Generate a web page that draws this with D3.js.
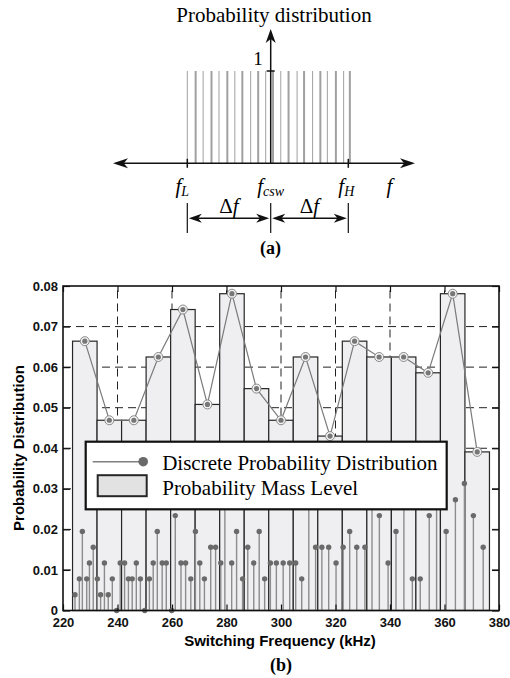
<!DOCTYPE html>
<html>
<head>
<meta charset="utf-8">
<script src="https://d3js.org/d3.v7.min.js"></script>
<style>
	body { margin: 0; background: #fff; }
	.serif { font-family: "Liberation Serif", "Times New Roman", serif; }
	.sans { font-family: "Liberation Sans", Arial, sans-serif; font-weight: bold; }
</style>
</head>
<body>
<svg id="fig" width="510" height="678"></svg>
<script>

////////////////////////////////////////////////////////////
///////////////////////// Data /////////////////////////////
////////////////////////////////////////////////////////////

//(a) spectral lines, in units of the spread (fL = -1, fcsw = 0, fH = 1)
var specLines = [-1.0, -0.90, -0.81, -0.71, -0.62, -0.52, -0.43, -0.34, -0.24, -0.15, -0.06,
	0.03, 0.13, 0.23, 0.34, 0.43, 0.54, 0.64, 0.73, 0.84, 0.94, 1.02];

//(b) axes
var freqTicks = [220, 240, 260, 280, 300, 320, 340, 360, 380];
var probTicks = [0, 0.01, 0.02, 0.03, 0.04, 0.05, 0.06, 0.07, 0.08];

//(b) probability mass levels (9 kHz bins)
var binCenters = [228, 237, 246, 255, 264, 273, 282, 291, 300, 309, 318, 327, 336, 345, 354, 363, 372];
var binProb = [0.0664, 0.0469, 0.0469, 0.0625, 0.0742, 0.0508, 0.0781, 0.0547, 0.0469,
	0.0625, 0.0430, 0.0664, 0.0625, 0.0625, 0.0586, 0.0781, 0.0391];

//(b) discrete probability distribution
var stemFreq = [224.4, 226.0, 227.1, 228.7, 229.7, 231.1, 232.6, 233.8, 235.2, 236.6, 238.1, 239.7,
	241.0, 242.6, 244.0, 245.4, 246.9, 248.4, 250.0, 251.7, 253.1, 254.6, 256.4, 257.9,
	259.9, 261.2, 263.3, 265.0, 266.9, 268.6, 270.2, 271.9, 274.2, 276.0, 277.9, 279.4,
	281.9, 283.7, 285.9, 287.8, 290.0, 292.0, 294.0, 296.1, 298.3, 300.8, 303.2, 305.4,
	307.6, 310.2, 312.7, 315.0, 317.5, 320.2, 322.8, 325.2, 327.8, 330.8, 333.4, 336.1,
	339.3, 342.2, 345.1, 348.2, 351.1, 354.4, 357.1, 360.6, 364.0, 367.3, 370.6, 374.2];
var stemProb = [0.0039, 0.0078, 0.0195, 0.0078, 0.0117, 0.0156, 0.0078, 0.0039, 0.0117, 0.0039, 0.0078, 0,
	0.0117, 0.0117, 0.0078, 0.0078, 0.0117, 0.0078, 0, 0.0078, 0.0117, 0.0195, 0.0117, 0.0117,
	0, 0.0234, 0.0117, 0.0117, 0.0078, 0.0195, 0.0117, 0.0078, 0.0156, 0.0156, 0.0117, 0.0273,
	0.0117, 0.0195, 0.0078, 0.0156, 0.0117, 0.0195, 0.0078, 0.0117, 0.0117, 0.0117, 0.0117, 0.0117,
	0.0078, 0.0273, 0.0156, 0.0156, 0.0156, 0.0117, 0.0156, 0.0195, 0.0156, 0.0156, 0.0273, 0.0234,
	0.0117, 0.0195, 0.0352, 0.0078, 0.0078, 0.0234, 0.0273, 0.0195, 0.0273, 0.0313, 0.0234, 0.0156];

var svg = d3.select("#fig");

////////////////////////////////////////////////////////////
///////////////////// (a) Diagram //////////////////////////
////////////////////////////////////////////////////////////

var xa = d3.scaleLinear().domain([-1, 0, 1]).range([187.3, 270.7, 348.3]),
	ya = d3.scaleLinear().domain([0, 1]).range([163.3, 71]);

var ga = svg.append("g");

//Spectral lines
ga.selectAll(".spec-line")
	.data(specLines)
	.enter().append("line")
	.attr("class", "spec-line")
	.attr("x1", function(d) { return xa(d); })
	.attr("x2", function(d) { return xa(d); })
	.attr("y1", ya(0))
	.attr("y2", ya(1))
	.style("stroke", "#a0a0a0")
	.style("stroke-width", function(d,i) { return i % 2 ? 2 : 1; });

//Arrow head helper (tip at x,y pointing in direction ang)
function arrowHead(g, x, y, ang, len, half) {
	g.append("path")
		.attr("d", "M0,0 L" + (-len) + "," + (-half) + " L" + (-len*0.72) + ",0 L" + (-len) + "," + half + " Z")
		.attr("transform", "translate(" + x + "," + y + ") rotate(" + ang + ")")
		.style("fill", "#111");
}

//Horizontal axis
ga.append("line")
	.attr("x1", 116).attr("x2", 412)
	.attr("y1", ya(0)).attr("y2", ya(0))
	.style("stroke", "#111").style("stroke-width", 1.5);
arrowHead(ga, 113, ya(0), 180, 15, 5);
arrowHead(ga, 415, ya(0), 0, 15, 5);

//Vertical axis
ga.append("line")
	.attr("x1", xa(0)).attr("x2", xa(0))
	.attr("y1", ya(0)).attr("y2", 32)
	.style("stroke", "#111").style("stroke-width", 1.5);
arrowHead(ga, xa(0), 29, -90, 14, 5);

//Tick at the unit level
ga.append("line")
	.attr("x1", xa(0) - 4).attr("x2", xa(0) + 4)
	.attr("y1", ya(1)).attr("y2", ya(1))
	.style("stroke", "#111").style("stroke-width", 1.5);
ga.append("text")
	.attr("class", "serif")
	.attr("x", xa(0) - 8).attr("y", 65)
	.attr("text-anchor", "end")
	.style("font-size", "19px")
	.text("1");

//Ticks at fL and fH
[-1, 1].forEach(function(d) {
	ga.append("line")
		.attr("x1", xa(d)).attr("x2", xa(d))
		.attr("y1", ya(0) - 4.5).attr("y2", ya(0) + 4.5)
		.style("stroke", "#111").style("stroke-width", 1.5);
});

//Title
ga.append("text")
	.attr("class", "serif")
	.attr("x", 274).attr("y", 22)
	.attr("text-anchor", "middle")
	.style("font-size", "21px")
	.text("Probability distribution");

//Frequency labels
var freqLabels = [
	{pos: -1, dx: -5, main: "f", sub: "L"},
	{pos: 0, dx: 0, main: "f", sub: "csw"},
	{pos: 1, dx: -2, main: "f", sub: "H"},
	{pos: 1.53, dx: 0, main: "f", sub: ""}
];
freqLabels.forEach(function(d) {
	var t = ga.append("text")
		.attr("class", "serif")
		.attr("x", xa(d.pos) + d.dx).attr("y", 193)
		.attr("text-anchor", "middle")
		.style("font-size", "21px")
		.style("font-style", "italic");
	t.append("tspan").text(d.main);
	if (d.sub) t.append("tspan").attr("dy", 3).style("font-size", "14px").text(d.sub);
});

//Delta f brackets
[-1, 0, 1].forEach(function(d) {
	ga.append("line")
		.attr("x1", xa(d)).attr("x2", xa(d))
		.attr("y1", 203).attr("y2", 233)
		.style("stroke", "#111").style("stroke-width", 1.2);
});
[[-1, 0], [0, 1]].forEach(function(p) {
	var a = xa(p[0]) + 1.5, b = xa(p[1]) - 1.5;
	ga.append("line")
		.attr("x1", a + 8).attr("x2", b - 8)
		.attr("y1", 218.3).attr("y2", 218.3)
		.style("stroke", "#111").style("stroke-width", 1.5);
	arrowHead(ga, a, 218.3, 180, 13, 4.5);
	arrowHead(ga, b, 218.3, 0, 13, 4.5);
	var t = ga.append("text")
		.attr("class", "serif")
		.attr("x", (a + b)/2).attr("y", 213)
		.attr("text-anchor", "middle")
		.style("font-size", "21px");
	t.append("tspan").text("\u0394");
	t.append("tspan").style("font-style", "italic").text("f");
});

ga.append("text")
	.attr("class", "serif")
	.attr("x", 270.5).attr("y", 254)
	.attr("text-anchor", "middle")
	.style("font-size", "18px")
	.style("font-weight", "bold")
	.text("(a)");

////////////////////////////////////////////////////////////
///////////////////// (b) Chart ////////////////////////////
////////////////////////////////////////////////////////////

var x = d3.scaleLinear().domain([220, 380]).range([63, 499]),
	y = d3.scaleLinear().domain([0, 0.08]).range([610.5, 286]);

var gb = svg.append("g");

//Dashed grid
gb.selectAll(".vgrid")
	.data(freqTicks.slice(1, -1))
	.enter().append("line")
	.attr("x1", function(d) { return x(d); })
	.attr("x2", function(d) { return x(d); })
	.attr("y1", y(0)).attr("y2", y(0.08))
	.style("stroke", "#222").style("stroke-width", 1)
	.style("stroke-dasharray", "8,5");
gb.selectAll(".hgrid")
	.data(probTicks.slice(1, -1))
	.enter().append("line")
	.attr("y1", function(d) { return y(d); })
	.attr("y2", function(d) { return y(d); })
	.attr("x1", x(220)).attr("x2", x(380))
	.style("stroke", "#222").style("stroke-width", 1)
	.style("stroke-dasharray", "8,5");

//Probability mass bars
var binW = binCenters[1] - binCenters[0];
gb.selectAll(".bar")
	.data(binCenters)
	.enter().append("rect")
	.attr("class", "bar")
	.attr("x", function(d) { return x(d - binW/2); })
	.attr("width", function(d) { return x(d + binW/2) - x(d - binW/2); })
	.attr("y", function(d,i) { return y(binProb[i]); })
	.attr("height", function(d,i) { return y(0) - y(binProb[i]); })
	.style("fill", "#efeff1")
	.style("stroke", "#262626")
	.style("stroke-width", 1.2);

//Stems
gb.selectAll(".stem")
	.data(stemFreq)
	.enter().append("line")
	.attr("x1", function(d) { return x(d); })
	.attr("x2", function(d) { return x(d); })
	.attr("y1", y(0))
	.attr("y2", function(d,i) { return y(stemProb[i]); })
	.style("stroke", "#8c8c8c")
	.style("stroke-width", 1.4);
gb.selectAll(".stem-dot")
	.data(stemFreq)
	.enter().append("circle")
	.attr("cx", function(d) { return x(d); })
	.attr("cy", function(d,i) { return y(stemProb[i]); })
	.attr("r", 2.7)
	.style("fill", "#6a6a6a");

//Line through bin centres
var line = d3.line()
	.x(function(d) { return x(d); })
	.y(function(d,i) { return y(binProb[i]); });
gb.append("path")
	.attr("d", line(binCenters))
	.style("fill", "none")
	.style("stroke", "#7a7a7a")
	.style("stroke-width", 1.2);
gb.selectAll(".mk-ring")
	.data(binCenters)
	.enter().append("circle")
	.attr("cx", function(d) { return x(d); })
	.attr("cy", function(d,i) { return y(binProb[i]); })
	.attr("r", 4.5)
	.style("fill", "#f4f4f4")
	.style("stroke", "#888")
	.style("stroke-width", 1);
gb.selectAll(".mk-dot")
	.data(binCenters)
	.enter().append("circle")
	.attr("cx", function(d) { return x(d); })
	.attr("cy", function(d,i) { return y(binProb[i]); })
	.attr("r", 2.6)
	.style("fill", "#777");

//Axes
function styleAxis(g) {
	g.select(".domain").remove();
	g.selectAll(".tick line").style("stroke", "#111").style("stroke-width", 1.2);
	g.selectAll(".tick text")
		.attr("class", "sans")
		.style("font-size", "13px")
		.style("fill", "#111");
}

gb.append("g")
	.attr("transform", "translate(0," + y(0) + ")")
	.call(d3.axisBottom(x).tickValues(freqTicks).tickSizeInner(-6).tickSizeOuter(0).tickPadding(7))
	.call(styleAxis);
gb.append("g")
	.attr("transform", "translate(0," + y(0.08) + ")")
	.call(d3.axisTop(x).tickValues(freqTicks).tickSizeInner(-6).tickSizeOuter(0).tickFormat(""))
	.call(styleAxis);
gb.append("g")
	.attr("transform", "translate(" + x(220) + ",0)")
	.call(d3.axisLeft(y).tickValues(probTicks).tickSizeInner(-7).tickSizeOuter(0).tickPadding(5)
		.tickFormat(function(d) { return d === 0 ? "0" : d3.format(".2f")(d); }))
	.call(styleAxis);
gb.append("g")
	.attr("transform", "translate(" + x(380) + ",0)")
	.call(d3.axisRight(y).tickValues(probTicks).tickSizeInner(-7).tickSizeOuter(0).tickFormat(""))
	.call(styleAxis);

//Frame
gb.append("rect")
	.attr("x", x(220)).attr("y", y(0.08))
	.attr("width", x(380) - x(220))
	.attr("height", y(0) - y(0.08))
	.style("fill", "none")
	.style("stroke", "#111")
	.style("stroke-width", 1.6);

//Axis titles
gb.append("text")
	.attr("class", "sans")
	.attr("x", 280).attr("y", 646)
	.attr("text-anchor", "middle")
	.style("font-size", "15px")
	.text("Switching Frequency (kHz)");
gb.append("text")
	.attr("class", "sans")
	.attr("transform", "translate(24,448) rotate(-90)")
	.attr("text-anchor", "middle")
	.style("font-size", "15px")
	.text("Probability Distribution");

gb.append("text")
	.attr("class", "serif")
	.attr("x", 281).attr("y", 671)
	.attr("text-anchor", "middle")
	.style("font-size", "18px")
	.style("font-weight", "bold")
	.text("(b)");

////////////////////////////////////////////////////////////
////////////////////// Legend //////////////////////////////
////////////////////////////////////////////////////////////

var lg = gb.append("g").attr("transform", "translate(85.7,441.7)");

lg.append("rect")
	.attr("width", 361).attr("height", 67.6)
	.style("fill", "#fff")
	.style("stroke", "#111")
	.style("stroke-width", 2.2);

lg.append("line")
	.attr("x1", 7).attr("x2", 57.5)
	.attr("y1", 20).attr("y2", 20)
	.style("stroke", "#808080").style("stroke-width", 1.5);
lg.append("circle")
	.attr("cx", 57.5).attr("cy", 20).attr("r", 4.8)
	.style("fill", "#6a6a6a");
lg.append("rect")
	.attr("x", 12).attr("y", 33.5)
	.attr("width", 49).attr("height", 21)
	.style("fill", "#e2e2e2")
	.style("stroke", "#262626")
	.style("stroke-width", 2);

lg.append("text")
	.attr("class", "serif")
	.attr("x", 76.5).attr("y", 28)
	.style("font-size", "21px")
	.text("Discrete Probability Distribution");
lg.append("text")
	.attr("class", "serif")
	.attr("x", 76.5).attr("y", 53)
	.style("font-size", "21px")
	.text("Probability Mass Level");

</script>
</body>
</html>
